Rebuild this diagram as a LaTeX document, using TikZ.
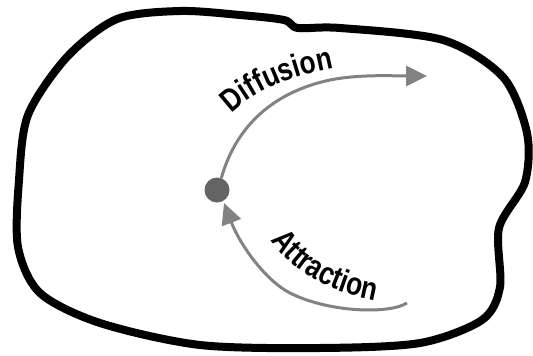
\documentclass[tikz,border=0pt]{standalone}
\usepackage{fontspec}
\setmainfont{Liberation Sans}
\newfontfamily\narrowsans{Liberation Sans}[FakeStretch=0.82]
\usetikzlibrary{arrows.meta,decorations.text}
\definecolor{flowgray}{RGB}{130,130,130}
\definecolor{dotgray}{RGB}{100,100,100}

\begin{document}
\begin{tikzpicture}[x=1pt,y=-1pt,
  arr/.style={-{Triangle[length=21pt,width=20pt]},line width=3pt,flowgray},
  lab/.style={decorate,decoration={text along path,text align=center,
    text={|\narrowsans\bfseries\fontsize{32}{32}\selectfont|#1}}},
  rim/.style={line width=8pt,line join=round}
]
\useasboundingbox (0,0) rectangle (533,356);
% region boundary
\draw[rim] plot[smooth cycle,tension=0.5] coordinates {
  (117,19) (180,11) (240,15) (284,20) (298,28) (340,28) (443,40)
  (503,77) (527,133) (525,182) (499,228) (500,287) (482,320)
  (420,343) (320,348) (200,345) (100,323) (40,293) (18,247)
  (19,180) (28,115) (67,57)};
\node[circle,fill=dotgray,minimum size=25pt,inner sep=0pt] (cell) at (217,190) {};
\coordinate (diffend) at (427,76);
\coordinate (attrstart) at (407,303);
\coordinate (attrend) at (224,203);
% diffusion
\draw[arr] (cell.70) .. controls (232,140) and (260,95) .. (330,80)
  .. controls (360,74) and (395,76) .. (diffend);
\path[lab=Diffusion] (224,122) .. controls (240,100) and (275,78) .. (345,66);
% attraction
\draw[arr] (attrstart) .. controls (390,314) and (330,313) .. (290,293)
  .. controls (266,281) and (240,245) .. (attrend);
\path[lab=Attraction] (266,232) .. controls (285,265) and (320,292) .. (385,302);
\end{tikzpicture}
\end{document}
